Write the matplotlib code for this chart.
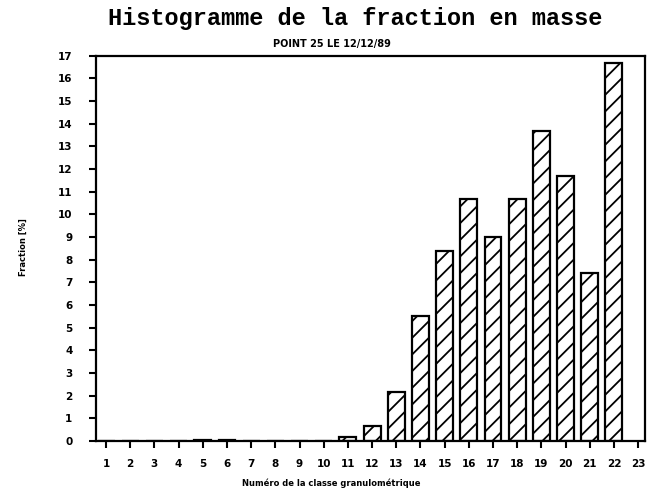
import matplotlib.pyplot as plt

# classes granulometriques et fraction en masse (%)
classes = list(range(1, 23))
fraction = [0, 0, 0, 0, 0.03, 0.03, 0, 0, 0, 0,
            0.2, 0.65, 2.15, 5.5, 8.4, 10.7, 9.0, 10.7, 13.7, 11.7, 7.4, 16.7]
xticks = list(range(1, 24))
yticks = list(range(0, 18))

plt.rcParams['hatch.linewidth'] = 1.3

fig = plt.figure(figsize=(6.63, 4.94), dpi=100)
ax = fig.add_axes([0.145, 0.107, 0.828, 0.78])

ax.bar(classes, fraction, width=0.7, color='white', edgecolor='black',
       linewidth=1.6, hatch='//')

ax.set_xlim(0.59, 23.29)
ax.set_ylim(0, 17)
ax.set_xticks(xticks)
ax.set_yticks(yticks)
ax.tick_params(direction='out', length=5, width=1.5, labelsize=7.5)
ax.tick_params(axis='y', pad=12)
ax.tick_params(axis='x', pad=8)
for lab in ax.get_xticklabels() + ax.get_yticklabels():
    lab.set_fontweight('bold')
for s in ax.spines.values():
    s.set_linewidth(1.6)

fig.text(0.535, 0.962, 'Histogramme de la fraction en masse', ha='center', va='center',
         family='Liberation Mono', fontsize=17, fontweight='bold')
fig.text(0.5, 0.91, 'POINT 25 LE 12/12/89', ha='center', va='center',
         fontsize=7, fontweight='bold')
fig.text(0.035, 0.5, 'Fraction [%]', rotation=90, ha='center', va='center',
         fontsize=6, fontweight='bold')
fig.text(0.5, 0.012, 'Numéro de la classe granulométrique', ha='center', va='bottom',
         fontsize=6, fontweight='bold')

fig.savefig('out.png', dpi=100)
